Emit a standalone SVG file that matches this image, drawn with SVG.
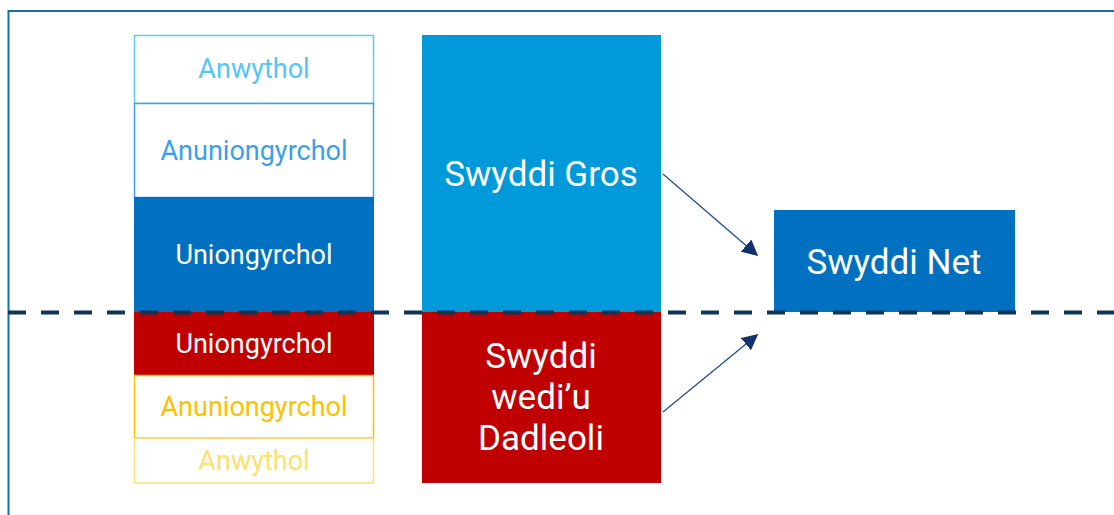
<svg xmlns="http://www.w3.org/2000/svg" width="1114" height="515" viewBox="0 0 1114 515">
<style>
text{font-family:Roboto,"Liberation Sans",sans-serif;text-anchor:middle;dominant-baseline:central}
.s{font-size:27px}
.l{font-size:35px}
.w{fill:#ffffff}
.conn{stroke:#1f4e8c;stroke-width:1.3;fill:none}
</style>
<defs>
<marker id="ah" viewBox="0 0 10 10" refX="9" refY="5" markerWidth="16" markerHeight="16" markerUnits="userSpaceOnUse" orient="auto">
<path d="M0,0 L10,5 L0,10 Z" fill="#13326b"/>
</marker>
</defs>
<rect width="1114" height="515" fill="#ffffff"/>
<path d="M8.5,515 V11 H1114" fill="none" stroke="#0e74a8" stroke-width="2"/>
<g id="n-anwythol-top"><rect x="134.5" y="35.5" width="239" height="68" fill="#fff" stroke="#5bc9f8" stroke-width="1.5"/><text class="s" x="254" y="69" fill="#55c5f5">Anwythol</text></g>
<g id="n-anuniongyrchol-top"><rect x="134.5" y="103.5" width="239" height="94" fill="#fff" stroke="#3fa0ee" stroke-width="1.5"/><text class="s" x="254" y="151" fill="#3a9fea">Anuniongyrchol</text></g>
<g id="n-uniongyrchol-blue"><rect x="134" y="197" width="240" height="115" fill="#0070c0"/><text class="s w" x="254" y="255">Uniongyrchol</text></g>
<g id="n-uniongyrchol-red"><rect x="134" y="312" width="240" height="63" fill="#c00000"/><text class="s w" x="254" y="344">Uniongyrchol</text></g>
<g id="n-anuniongyrchol-bottom"><rect x="134.5" y="375.5" width="239" height="62.5" fill="#fff" stroke="#ffc000" stroke-width="1.5"/><text class="s" x="254" y="407" fill="#ffc000">Anuniongyrchol</text></g>
<g id="n-anwythol-bottom"><rect x="134.5" y="438.5" width="239" height="44.5" fill="#fff" stroke="#ffe07a" stroke-width="1.5"/><text class="s" x="254" y="461" fill="#ffdf6e">Anwythol</text></g>
<g id="n-gros"><rect x="422" y="35" width="239" height="277" fill="#0099da"/><text class="l w" x="541" y="174">Swyddi Gros</text></g>
<g id="n-dadleoli"><rect x="422" y="312" width="239" height="171" fill="#c00000"/><text class="l w" x="541" y="356">Swyddi</text><text class="l w" x="541" y="397">wedi’u</text><text class="l w" x="541" y="438">Dadleoli</text></g>
<g id="n-net"><rect x="774" y="210" width="241" height="102" fill="#0070c0"/><text class="l w" x="894" y="262">Swyddi Net</text></g>
<line x1="8" y1="312.5" x2="1114" y2="312.5" stroke="#0e3556" stroke-width="4" stroke-dasharray="18 15"/>
<g id="connectors">
<line class="conn" x1="663" y1="174" x2="757" y2="255" marker-end="url(#ah)"/>
<line class="conn" x1="663" y1="412" x2="757" y2="335" marker-end="url(#ah)"/>
</g>
</svg>
